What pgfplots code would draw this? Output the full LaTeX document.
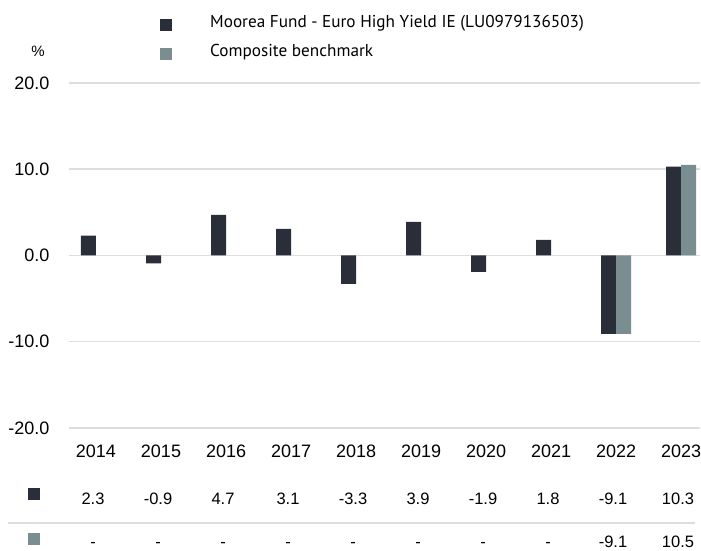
\documentclass[border=0pt]{standalone}
\usepackage{pgfplots}
\pgfplotsset{compat=1.18}
\usepackage{fontspec}
\setmainfont{Liberation Sans}
\newfontfamily\legfont{PT Sans}
\definecolor{fund}{RGB}{42,46,56}
\definecolor{bench}{RGB}{122,142,146}
\definecolor{gridc}{RGB}{221,221,221}
\begin{document}
\begin{tikzpicture}[x=1pt,y=1pt]
\useasboundingbox (0,0) rectangle (701,551);
\begin{axis}[
  at={(69pt,123pt)}, anchor=south west,
  scale only axis, width=631pt, height=345pt,
  xmin=-0.415, xmax=9.29, ymin=-20, ymax=20,
  ybar=0pt, bar width=15pt,
  axis line style={draw=none},
  major tick length=0pt,
  ytick={-20,-10,0,10,20},
  ymajorgrids, grid style={gridc, line width=1.5pt},
  /pgf/number format/fixed, /pgf/number format/fixed zerofill,
  /pgf/number format/precision=1, /pgf/number format/assume math mode=true,
  yticklabel style={font=\fontsize{18}{20}\selectfont, anchor=east, inner sep=0pt, xshift=-19.5pt},
  xtick={0,...,9},
  xticklabels={2014,2015,2016,2017,2018,2019,2020,2021,2022,2023},
  xticklabel style={font=\fontsize{18}{20}\selectfont, anchor=base, inner sep=0pt, yshift=-30pt},
  clip=false,
]
\addplot[fill=fund, draw=none] coordinates {(0,2.3) (1,-0.9) (2,4.7) (3,3.1) (4,-3.3) (5,3.9) (6,-1.9) (7,1.8) (8,-9.1) (9,10.3)};
\addplot[fill=bench, draw=none] coordinates {(8,-9.1) (9,10.5)};
\end{axis}
% legend
\fill[fund] (160,520) rectangle (172,532);
\node[anchor=base west, inner sep=0pt, font=\legfont\fontsize{17.2}{19}\selectfont] at (210,523) {Moorea Fund - Euro High Yield IE (LU0979136503)};
\fill[bench] (160,491) rectangle (172,503);
\node[anchor=base west, inner sep=0pt, font=\legfont\fontsize{17.2}{19}\selectfont] at (210,494) {Composite benchmark};
\node[inner sep=0pt, font=\fontsize{15}{17}\selectfont] at (38,500) {\%};
% table
\fill[fund] (28,51) rectangle (40,63);
\draw[gridc, line width=1.5pt] (8,28) -- (695,28);
\fill[bench] (28,6) rectangle (40,18);
\foreach \v [count=\i from 0] in {2.3,-0.9,4.7,3.1,-3.3,3.9,-1.9,1.8,-9.1,10.3}
  \node[anchor=base, inner sep=0pt, font=\fontsize{16.5}{18}\selectfont] at ({93+65*\i},46) {\v};
\foreach \v [count=\i from 0] in {-,-,-,-,-,-,-,-,-9.1,10.5}
  \node[anchor=base, inner sep=0pt, font=\fontsize{16.5}{18}\selectfont] at ({93+65*\i},3) {\v};
\end{tikzpicture}
\end{document}
